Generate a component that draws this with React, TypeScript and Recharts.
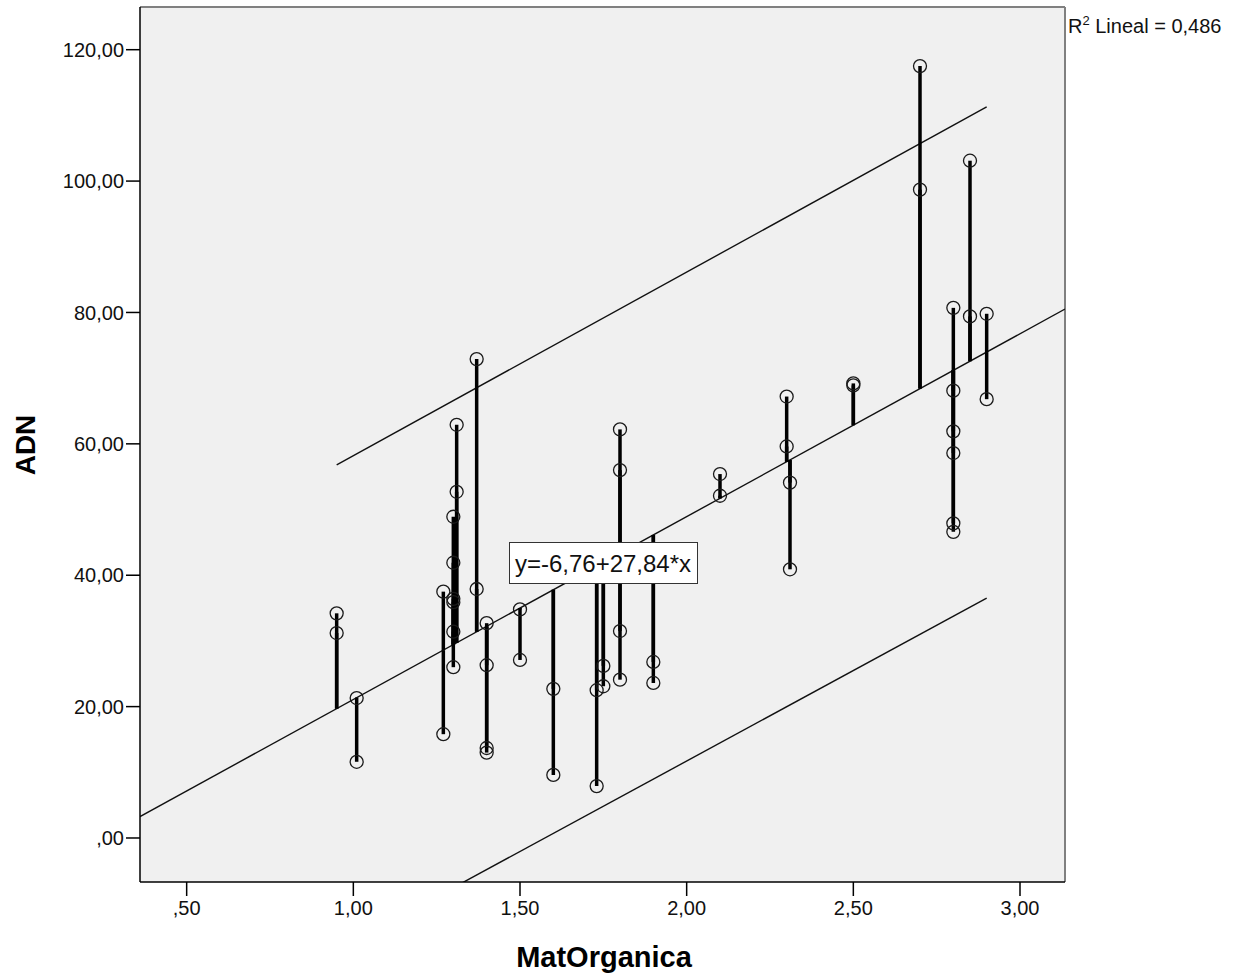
import { ComposedChart, Line, Scatter, XAxis, YAxis, CartesianGrid, ReferenceLine } from 'recharts'

const FONT = '"Liberation Sans", Arial, sans-serif'

const matOrganica = [
  0.95, 0.95, 1.01, 1.01, 1.27, 1.27,
  1.3, 1.3, 1.3, 1.3, 1.3, 1.3, 1.31, 1.31,
  1.37, 1.37, 1.4, 1.4, 1.4, 1.4, 1.5, 1.5,
  1.6, 1.6, 1.73, 1.73, 1.75, 1.75,
  1.8, 1.8, 1.8, 1.8, 1.9, 1.9, 2.1, 2.1,
  2.3, 2.3, 2.31, 2.31, 2.5, 2.5, 2.7, 2.7,
  2.8, 2.8, 2.8, 2.8, 2.8, 2.8, 2.85, 2.85, 2.9, 2.9,
]
const adn = [
  34.2, 31.2, 21.3, 11.6, 37.5, 15.8,
  48.9, 41.9, 36.4, 35.9, 31.4, 26.0, 62.9, 52.7,
  72.9, 37.9, 32.7, 26.3, 13.7, 13.0, 34.8, 27.1,
  22.7, 9.6, 22.5, 7.9, 26.2, 23.1,
  62.2, 56.0, 31.5, 24.1, 26.8, 23.6, 55.4, 52.1,
  67.2, 59.6, 54.1, 40.9, 69.2, 68.9, 117.5, 98.7,
  80.7, 68.1, 61.9, 58.6, 47.9, 46.6, 103.1, 79.4, 79.8, 66.8,
]

// fitted line, as printed on the chart
const intercept = -6.76
const slope = 27.84
const equation = 'y=-6,76+27,84*x'
const r2 = '0,486'

// 95% individual prediction bounds, end points
const upperX = [0.95, 2.9]
const upperY = [56.8, 111.3]
const lowerX = [0.95, 2.9]
const lowerY = [-17.2, 36.5]

const xTicks = [0.5, 1, 1.5, 2, 2.5, 3]
const yTicks = [0, 20, 40, 60, 80, 100, 120]
const xDomain: [number, number] = [0.36, 3.135]
const yDomain: [number, number] = [-6.7, 126.5]

const points = matOrganica.map((x, i) => ({ x, y: adn[i] }))
const fitLine = xDomain.map((x) => ({ x, y: intercept + slope * x }))
const upper = upperX.map((x, i) => ({ x, y: upperY[i] }))
const lower = lowerX.map((x, i) => ({ x, y: lowerY[i] }))

// SPSS style: 2 decimals, comma, no leading zero
const fmt = (v: number) => v.toFixed(2).replace('.', ',').replace(/^0,/, ',')

const Ring = (props: any) => (
  <circle cx={props.cx} cy={props.cy} r={6.5} fill="none" stroke="#1a1a1a" strokeWidth={1.3} />
)

const tickStyle = { fontSize: 20, fill: '#111', fontFamily: FONT }

export default function App() {
  return (
    <div style={{ position: 'absolute', left: 0, top: 0, width: 1251, height: 973, background: '#fff' }}>
      <ComposedChart width={1251} height={973} margin={{ top: 7, right: 186, bottom: 0, left: 0 }}>
        <CartesianGrid fill="#f0f0f0" horizontal={false} vertical={false} />
        <XAxis
          dataKey="x"
          type="number"
          domain={xDomain}
          ticks={xTicks}
          allowDataOverflow
          tickFormatter={fmt}
          height={91}
          tickSize={14}
          tickMargin={5}
          tick={tickStyle}
          axisLine={{ stroke: '#000', strokeWidth: 1.5 }}
          tickLine={{ stroke: '#000', strokeWidth: 1.5 }}
        />
        <YAxis
          dataKey="y"
          type="number"
          domain={yDomain}
          ticks={yTicks}
          allowDataOverflow
          tickFormatter={fmt}
          width={140}
          tickSize={14}
          tickMargin={2}
          tick={tickStyle}
          axisLine={{ stroke: '#000', strokeWidth: 1.5 }}
          tickLine={{ stroke: '#000', strokeWidth: 1.5 }}
        />
        <ReferenceLine y={yDomain[1]} stroke="#808080" strokeWidth={2} />
        <ReferenceLine x={xDomain[1]} stroke="#808080" strokeWidth={2} />
        <Line data={upper} dataKey="y" stroke="#111" strokeWidth={1.4} dot={false} isAnimationActive={false} />
        <Line data={lower} dataKey="y" stroke="#111" strokeWidth={1.4} dot={false} isAnimationActive={false} />
        <Line data={fitLine} dataKey="y" stroke="#111" strokeWidth={1.4} dot={false} isAnimationActive={false} />
        {points.map((p, i) => (
          <ReferenceLine
            key={i}
            segment={[
              { x: p.x, y: p.y },
              { x: p.x, y: intercept + slope * p.x },
            ]}
            stroke="#000"
            strokeWidth={3.5}
          />
        ))}
        <Scatter data={points} dataKey="y" shape={Ring} isAnimationActive={false} />
      </ComposedChart>

      <svg width={1251} height={973} style={{ position: 'absolute', left: 0, top: 0, pointerEvents: 'none' }}>
        <rect x={509.5} y={542.5} width={188} height={41} fill="#fff" stroke="#333" strokeWidth={1} />
        <text x={603} y={572} textAnchor="middle" fontSize={24} fontFamily={FONT} fill="#111">
          {equation}
        </text>
        <text x={1068} y={33} fontSize={20} fontFamily={FONT} fill="#111">
          R
          <tspan dy={-8} fontSize={13}>2</tspan>
          <tspan dy={8}>{` Lineal = ${r2}`}</tspan>
        </text>
        <text transform="translate(35,445) rotate(-90)" textAnchor="middle" fontSize={28} fontWeight="bold" fontFamily={FONT} fill="#000">
          ADN
        </text>
        <text x={604} y={967} textAnchor="middle" fontSize={29} fontWeight="bold" fontFamily={FONT} fill="#000">
          MatOrganica
        </text>
      </svg>
    </div>
  )
}
